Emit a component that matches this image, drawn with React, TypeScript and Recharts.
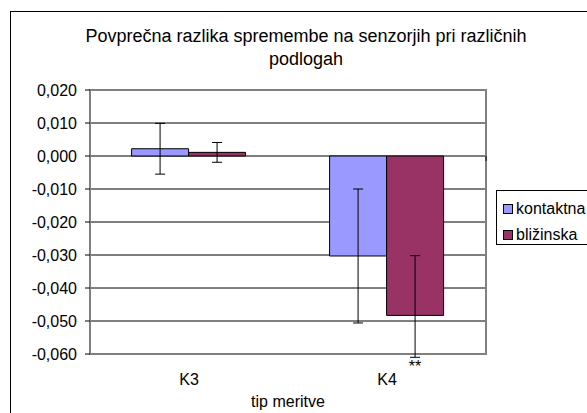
import React from "react";
import {
  BarChart,
  Bar,
  XAxis,
  YAxis,
  CartesianGrid,
  ErrorBar,
  LabelList,
  Label,
  Legend,
  ReferenceArea,
  ReferenceLine,
} from "recharts";

const categories = ["K3", "K4"];
const kontaktna = [0.0022, -0.0303];
const blizinska = [0.0011, -0.0483];
const kontaktnaErr = [0.0077, 0.0203];
// lower arm of the K4 bar is cut at the plot edge in the original
const blizinskaErrLow = [0.003, 0.0127];
const blizinskaErrHigh = [0.003, 0.0181];
const marks = ["", "**"];
const yTicks = [0.02, 0.01, 0, -0.01, -0.02, -0.03, -0.04, -0.05, -0.06];

const seriesNames = ["kontaktna", "bližinska"];
const seriesColors = ["#9999FF", "#993366"];

const data = categories.map((cat, i) => ({
  cat,
  kontaktna: kontaktna[i],
  blizinska: blizinska[i],
  kErr: kontaktnaErr[i],
  bErr: [blizinskaErrLow[i], blizinskaErrHigh[i]],
  mark: marks[i],
}));

const FONT = "Arial, 'Liberation Sans', sans-serif";

const fmt = (v: number) => {
  const s = v.toFixed(3).replace(".", ",");
  return s === "-0,000" ? "0,000" : s;
};

function StarMark(props: any) {
  const { value } = props;
  if (!value) return null;
  const vb = props.viewBox ?? props;
  const x = vb.x + vb.width / 2;
  const bottom = Math.max(vb.y, vb.y + vb.height);
  return (
    <text x={x} y={bottom + 57} textAnchor="middle" fontSize={16} fontFamily={FONT} fill="#000">
      {value}
    </text>
  );
}

function LegendBox() {
  return (
    <div
      style={{
        border: "1px solid #000",
        background: "#fff",
        width: 130,
        height: 55,
        boxSizing: "border-box",
        fontFamily: FONT,
        fontSize: 16,
        color: "#000",
        paddingTop: 5,
      }}
    >
      {seriesNames.map((name, i) => (
        <div key={name} style={{ display: "flex", alignItems: "center", height: 26, paddingLeft: 6 }}>
          <span
            style={{
              display: "inline-block",
              width: 8,
              height: 8,
              background: seriesColors[i],
              border: "1px solid #000",
              marginRight: 3,
            }}
          />
          <span>{name}</span>
        </div>
      ))}
    </div>
  );
}

export default function App() {
  return (
    <div
      style={{
        position: "absolute",
        left: 0,
        top: 0,
        width: 587,
        height: 413,
        overflow: "hidden",
        background: "#fff",
        fontFamily: FONT,
      }}
    >
      <div
        style={{
          position: "absolute",
          left: 10,
          top: 11,
          width: 620,
          height: 440,
          border: "1px solid #000",
        }}
      />
      <div
        style={{
          position: "absolute",
          left: 56,
          width: 500,
          top: 25,
          textAlign: "center",
          fontSize: 18,
          lineHeight: "23px",
          color: "#000",
        }}
      >
        Povprečna razlika spremembe na senzorjih pri različnih
        <br />
        podlogah
      </div>
      <BarChart
        width={587}
        height={413}
        data={data}
        margin={{ top: 90, right: 101, bottom: 0, left: 10 }}
        barCategoryGap="21%"
        barGap={0}
        style={{ position: "absolute", left: 0, top: 0 }}
      >
        <CartesianGrid vertical={false} stroke="#000" strokeWidth={1} />
        <ReferenceArea
          y1={-0.06}
          y2={0.02}
          fill="none"
          stroke="#808080"
          strokeWidth={2}
          ifOverflow="visible"
        />
        <XAxis
          dataKey="cat"
          axisLine={false}
          tickLine={false}
          tickSize={0}
          tickMargin={20}
          height={59}
          tick={{ fontSize: 16, fill: "#000", fontFamily: FONT }}
        >
          <Label
            value="tip meritve"
            position="insideBottom"
            offset={6}
            style={{ fontSize: 16, fill: "#000", fontFamily: FONT }}
          />
        </XAxis>
        <XAxis xAxisId="n" type="number" domain={[0, 2]} hide />
        <YAxis
          width={80}
          domain={[-0.06, 0.02]}
          ticks={yTicks}
          interval={0}
          allowDataOverflow
          tickFormatter={fmt}
          axisLine={{ stroke: "#808080", strokeWidth: 2 }}
          tickLine={{ stroke: "#000" }}
          tickSize={5}
          tickMargin={8}
          tick={{ fontSize: 16, fill: "#000", fontFamily: FONT }}
        />
        <ReferenceLine
          xAxisId="n"
          segment={[
            { x: 1, y: 0 },
            { x: 1, y: -0.0015 },
          ]}
          stroke="#000"
        />
        <Legend
          layout="horizontal"
          verticalAlign="middle"
          align="center"
          content={() => <LegendBox />}
          wrapperStyle={{ position: "absolute", left: 496, top: 190, width: 130 }}
        />
        <Bar
          dataKey="kontaktna"
          name={seriesNames[0]}
          fill={seriesColors[0]}
          stroke="#000"
          strokeWidth={1}
          isAnimationActive={false}
        >
          <ErrorBar dataKey="kErr" width={5} stroke="#000" strokeWidth={1} direction="y" />
        </Bar>
        <Bar
          dataKey="blizinska"
          name={seriesNames[1]}
          fill={seriesColors[1]}
          stroke="#000"
          strokeWidth={1}
          isAnimationActive={false}
        >
          <ErrorBar dataKey="bErr" width={5} stroke="#000" strokeWidth={1} direction="y" />
          <LabelList dataKey="mark" content={StarMark} />
        </Bar>
      </BarChart>
    </div>
  );
}
